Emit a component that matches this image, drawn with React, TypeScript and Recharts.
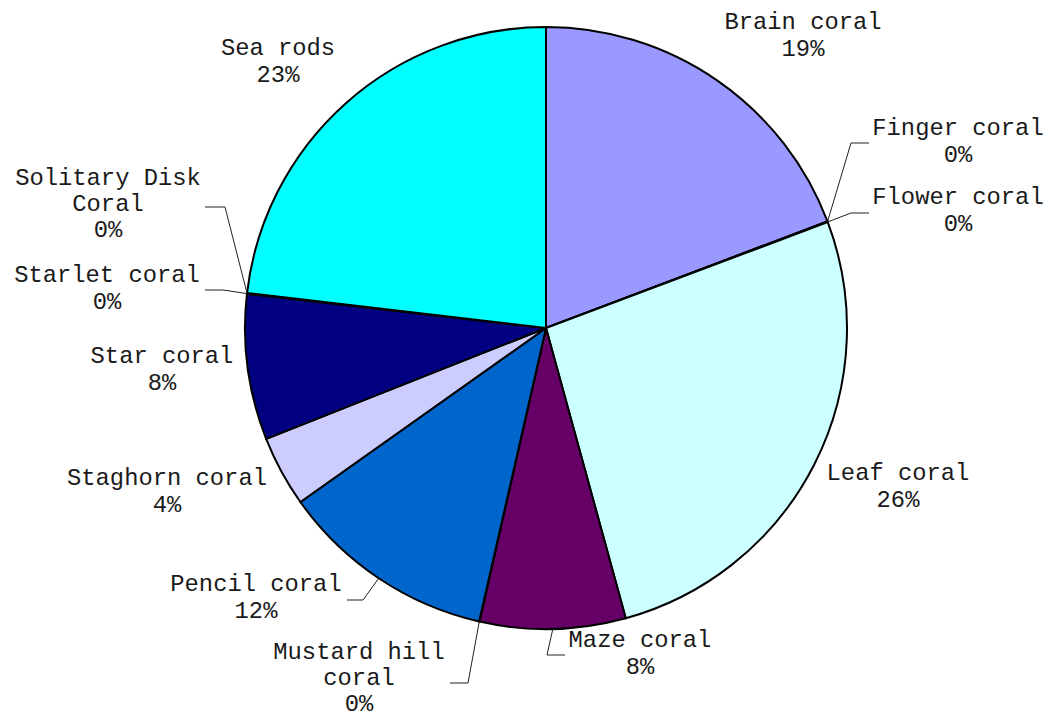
import { PieChart, Pie, Cell } from 'recharts';

const corals = [
  'Brain coral',
  'Finger coral',
  'Flower coral',
  'Leaf coral',
  'Maze coral',
  'Mustard hill coral',
  'Pencil coral',
  'Staghorn coral',
  'Star coral',
  'Starlet coral',
  'Solitary Disk Coral',
  'Sea rods',
];

const shares = [19.2, 0.02, 0.02, 26.4, 7.8, 0.02, 11.6, 3.8, 7.8, 0.02, 0.02, 23.1];

const colors = [
  '#9999FF', '#993366', '#FFFFCC', '#CCFFFF', '#660066', '#FF8080',
  '#0066CC', '#CCCCFF', '#000080', '#FF00FF', '#FFFF00', '#00FFFF',
];

// how each label wraps
const labelLines = [
  ['Brain coral'],
  ['Finger coral'],
  ['Flower coral'],
  ['Leaf coral'],
  ['Maze coral'],
  ['Mustard hill', 'coral'],
  ['Pencil coral'],
  ['Staghorn coral'],
  ['Star coral'],
  ['Starlet coral'],
  ['Solitary Disk', 'Coral'],
  ['Sea rods'],
];

const data = corals.map((name, i) => ({ name, value: shares[i] }));

// label placement relative to the pie centre; leader = [elbow, tail]
type Place = { dx: number; dy: number; leader?: [number, number][] };
const placement: Place[] = [
  { dx: 257, dy: -306 },
  { dx: 412, dy: -200, leader: [[305, -185], [323, -185]] },
  { dx: 412, dy: -131, leader: [[305, -115], [323, -115]] },
  { dx: 352, dy: 145 },
  { dx: 94, dy: 312, leader: [[1, 327], [19, 327]] },
  { dx: -187, dy: 324, leader: [[-78, 355], [-96, 355]] },
  { dx: -290, dy: 256, leader: [[-183, 272], [-199, 272]] },
  { dx: -379, dy: 150 },
  { dx: -384, dy: 28 },
  { dx: -439, dy: -53, leader: [[-323, -38], [-341, -38]] },
  { dx: -438, dy: -150, leader: [[-321, -121], [-341, -121]] },
  { dx: -268, dy: -280 },
];

const RAD = Math.PI / 180;
const LINE_H = 27;

const renderLabel = (props: any) => {
  const { cx, cy, midAngle, outerRadius, percent, index } = props;
  const p = placement[index];
  const lines = [...labelLines[index], `${Math.round(percent * 100)}%`];
  const ex = cx + outerRadius * Math.cos(-midAngle * RAD);
  const ey = cy + outerRadius * Math.sin(-midAngle * RAD);
  const x = cx + p.dx;
  const y = cy + p.dy;
  // three-line labels sit a touch tighter
  const lh = lines.length > 2 ? LINE_H - 1 : LINE_H;
  return (
    <g key={`lbl-${index}`}>
      {p.leader && (
        <polyline
          points={[[ex, ey], ...p.leader.map(([a, b]) => [cx + a, cy + b])]
            .map((pt) => pt.join(','))
            .join(' ')}
          fill="none"
          stroke="#222"
          strokeWidth={1}
        />
      )}
      <text
        x={x}
        y={y}
        textAnchor="middle"
        fontFamily="'Liberation Mono', monospace"
        fontSize={23.8}
        fill="#1a1a1a"
      >
        {lines.map((t, i) => (
          <tspan key={i} x={x} y={y + i * lh} dominantBaseline="central">
            {t}
          </tspan>
        ))}
      </text>
    </g>
  );
};

export default function App() {
  return (
    <div style={{ position: 'absolute', left: 0, top: 0, background: '#fff' }}>
      <PieChart width={1047} height={717} margin={{ top: 0, right: 0, bottom: 0, left: 0 }}>
        <Pie
          data={data}
          dataKey="value"
          nameKey="name"
          cx={546}
          cy={328}
          outerRadius={301}
          startAngle={90}
          endAngle={-270}
          stroke="#000"
          strokeWidth={2}
          label={renderLabel}
          labelLine={false}
          isAnimationActive={false}
        >
          {data.map((d, i) => (
            <Cell key={d.name} fill={colors[i]} />
          ))}
        </Pie>
      </PieChart>
    </div>
  );
}
